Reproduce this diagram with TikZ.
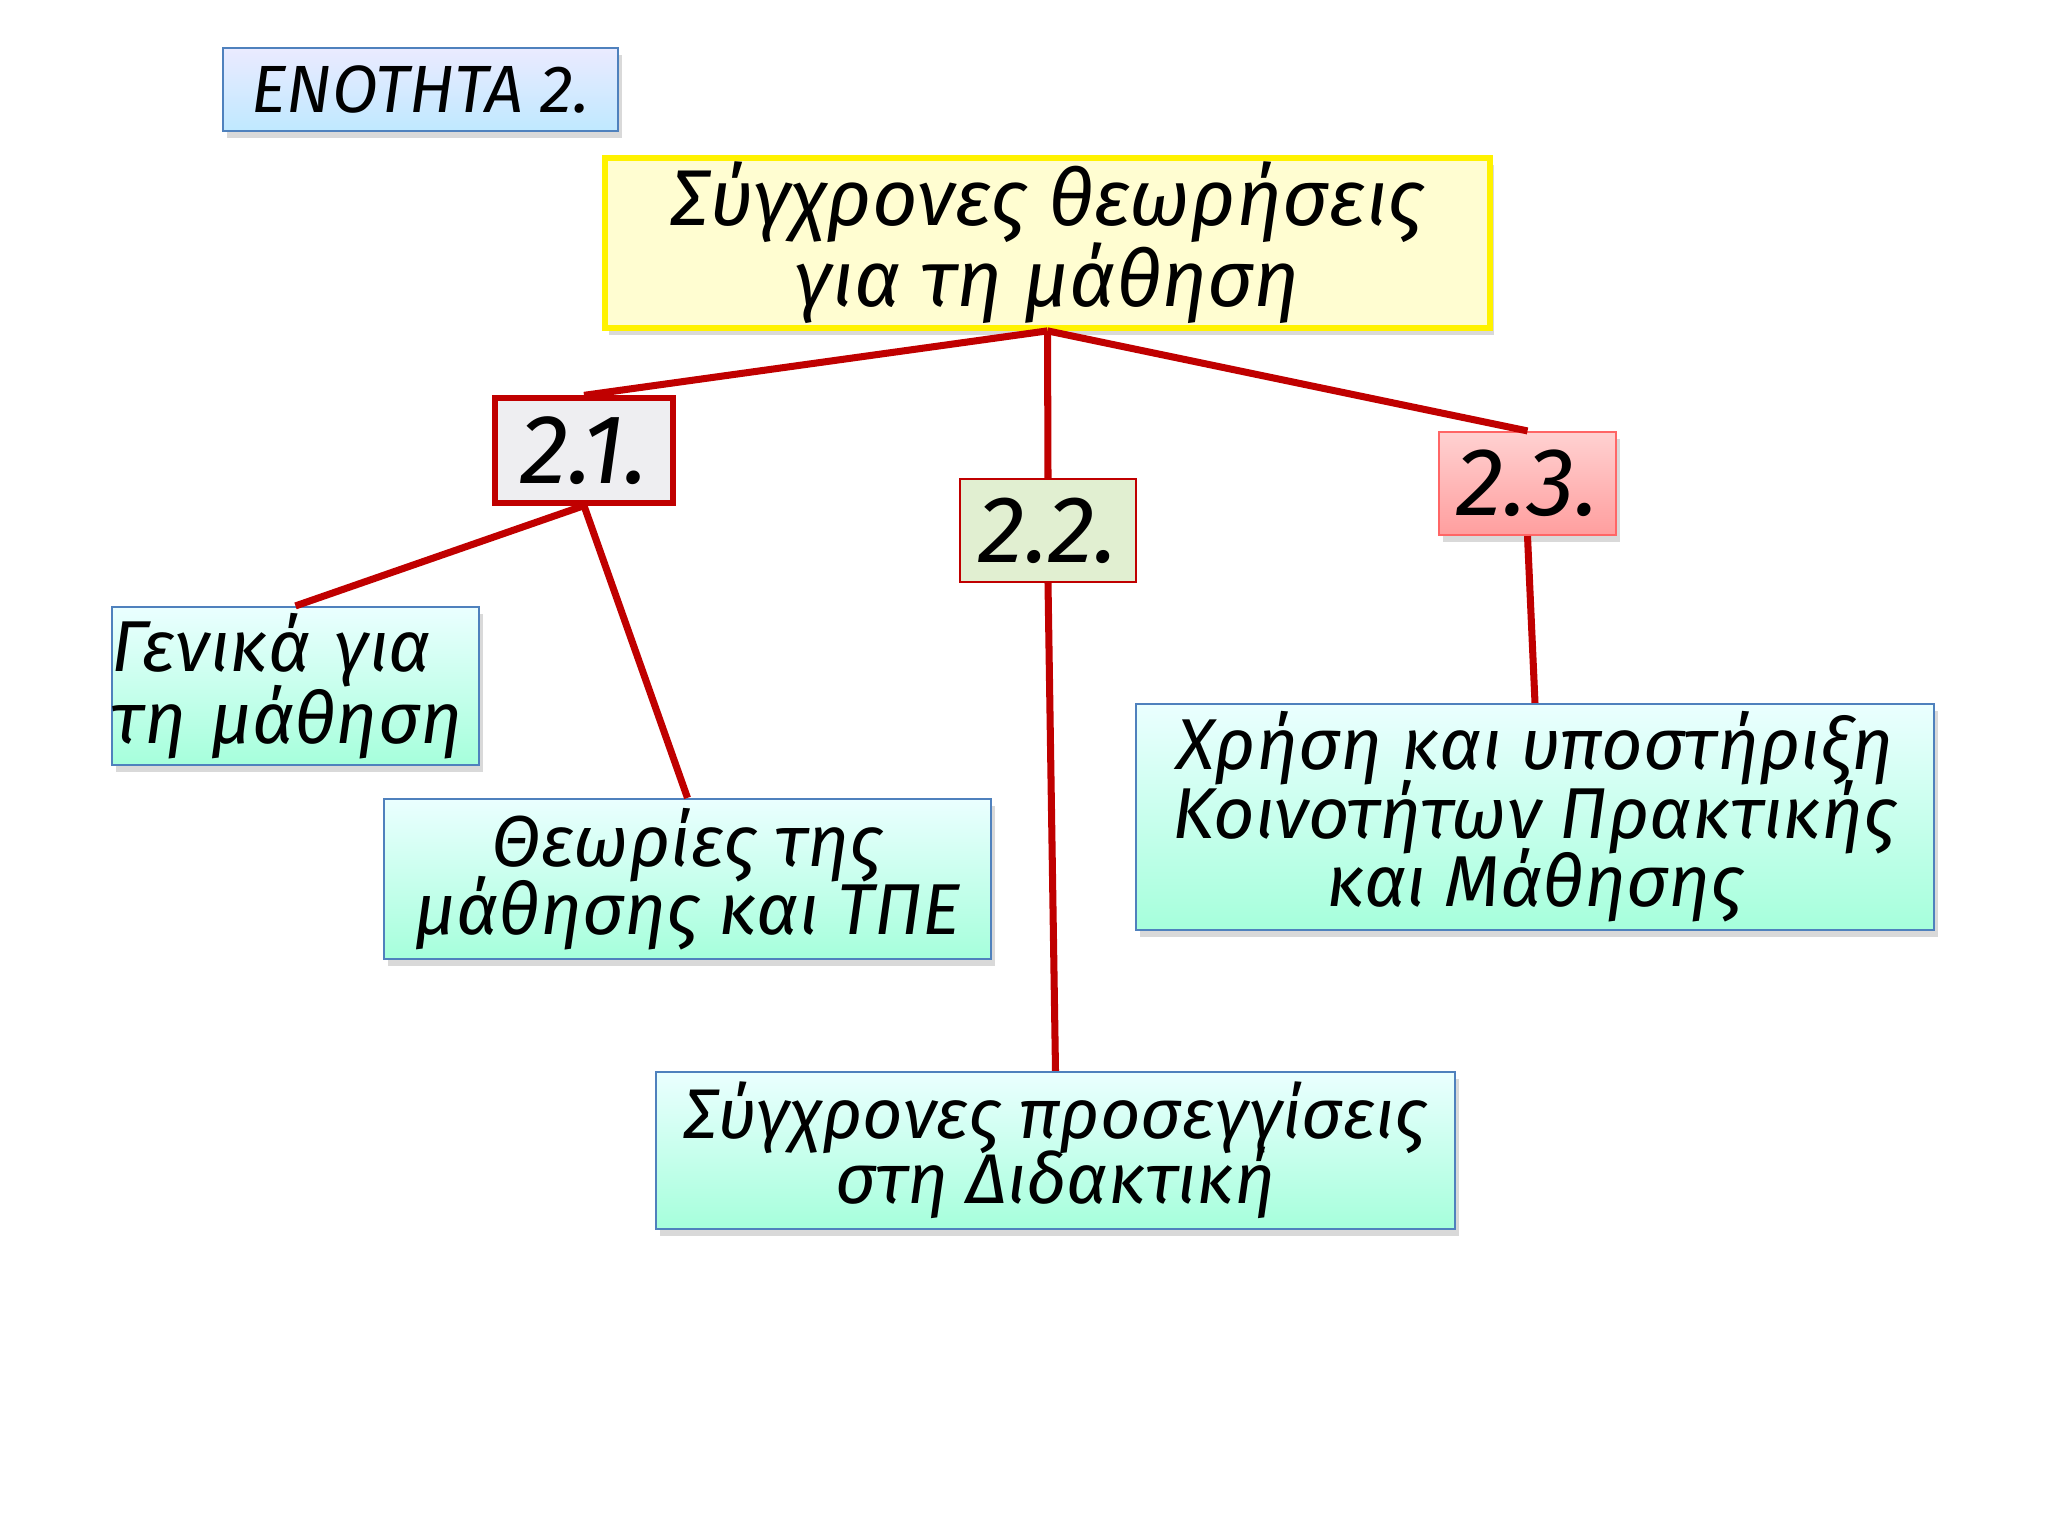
\documentclass[tikz,border=0pt]{standalone}
\usepackage{fontspec}
\setmainfont{Fira Sans}
\usetikzlibrary{shadows}
\definecolor{linered}{HTML}{C00000}
\definecolor{boxblue}{HTML}{4F81BD}
\newcommand\handfont[2]{\itshape\fontsize{#1}{#2}\selectfont\setlength{\lineskiplimit}{-30pt}}

\begin{document}
\begin{tikzpicture}[x=0.01cm, y=-0.01cm,
	hand/.style 2 args={font={\handfont{#1}{#2}}},
	shade box/.style={draw=boxblue, line width=0.6pt, inner sep=0pt, align=center,
		drop shadow={opacity=0.3, shadow xshift=0.04cm, shadow yshift=-0.07cm}},
	link/.style={draw=linered, line width=2pt}]
\useasboundingbox (0,0) rectangle (2048,1536);

			% heading boxes
			\node[shade box, top color=blue!8, bottom color=blue!35!cyan!25, minimum width=3.95cm, minimum height=0.83cm, hand={19}{20}] (sec) at (420.5, 89.5) {ΕΝΟΤΗΤΑ 2.};
			\node[shade box, draw=yellow, line width=1.6pt, fill=yellow!18, minimum width=8.85cm, minimum height=1.7cm, hand={22.5}{23}] (title) at (1047.5, 243) {Σύγχρονες θεωρήσεις\\για τη μάθηση};

			% section boxes
			\node[draw=linered, line width=1.5pt, fill=blue!8!gray!12, minimum width=1.78cm, minimum height=1.05cm, inner sep=0pt, hand={28}{28}] (s21) at (584, 450.5) {2.1.};
			\node[draw=linered, line width=0.6pt, fill=green!30!olive!18, minimum width=1.76cm, minimum height=1.03cm, inner sep=0pt, hand={27}{28}] (s22) at (1048, 530.5) {2.2.};
			\node[shade box, draw=red!60, top color=red!18, bottom color=red!38, minimum width=1.77cm, minimum height=1.03cm, hand={27.5}{28}] (s23) at (1527.5, 483.5) {2.3.};

			% topic boxes
			\node[shade box, top color=cyan!8, bottom color=green!40!cyan!35, minimum width=3.67cm, minimum height=1.58cm, text width=3.67cm, align=left, hand={20.5}{20.5}] (gen) at (295.5, 686) {Γενικά για\\τη μάθηση};
			\node[shade box, top color=cyan!8, bottom color=green!40!cyan!35, minimum width=6.07cm, minimum height=1.6cm, hand={20.5}{19.5}] (theo) at (687.5, 879) {Θεωρίες της\\μάθησης και ΤΠΕ};
			\node[shade box, top color=cyan!8, bottom color=green!40!cyan!35, minimum width=7.99cm, minimum height=1.57cm, hand={20}{18.5}] (did) at (1055.5, 1150.5) {Σύγχρονες προσεγγίσεις\\στη Διδακτική};
			\node[shade box, top color=cyan!8, bottom color=green!40!cyan!35, minimum width=7.98cm, minimum height=2.26cm, hand={20.5}{19.5}] (com) at (1535, 817) {Χρήση και υποστήριξη\\Κοινοτήτων Πρακτικής\\και Μάθησης};

			% connectors
			\foreach \a/\b in {title/s21, title/s22, title/s23, s21/gen, s21/theo, s22/did, s23/com} {
\draw[link] (\a.south) -- (\b.north);
			}
		\end{tikzpicture}
\end{document}
